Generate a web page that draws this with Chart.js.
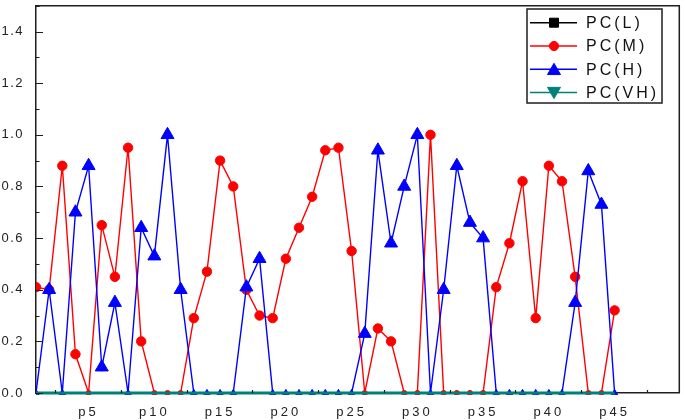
<!DOCTYPE html>
<html><head><meta charset="utf-8">
<script src="https://cdn.jsdelivr.net/npm/chart.js@4.4.1/dist/chart.umd.min.js"></script>
<style>html,body{margin:0;padding:0;background:#fff;}#wrap{width:685px;height:420px;}</style>
</head><body><div id="wrap"><canvas id="c" width="685" height="420"></canvas></div>
<script>
// ---------- data ----------
const categories = ['p1','p2','p3','p4','p5','p6','p7','p8','p9','p10','p11','p12','p13','p14','p15','p16','p17','p18','p19','p20','p21','p22','p23','p24','p25','p26','p27','p28','p29','p30','p31','p32','p33','p34','p35','p36','p37','p38','p39','p40','p41','p42','p43','p44','p45'];
const categoryPositions = [1,2,3,4,5,6,7,8,9,10,11,12,13,14,15,16,17,18,19,20,21,22,23,24,25,26,27,28,29,30,31,32,33,34,35,36,37,38,39,40,41,42,43,44,45];
const seriesNames = ['PC(L)','PC(M)','PC(H)','PC(VH)'];
const pcL  = [0,0,0,0,0,0,0,0,0,0,0,0,0,0,0,0,0,0,0,0,0,0,0,0,0,0,0,0,0,0,0,0,0,0,0,0,0,0,0,0,0,0,0,0,0];
const pcM  = [0.41,0.40,0.88,0.15,0,0.65,0.45,0.95,0.20,0,
              0,0,0.29,0.47,0.90,0.80,0.40,0.30,0.29,0.52,
              0.64,0.76,0.94,0.95,0.55,0,0.25,0.20,0,0,
              1.00,0,0,0,0,0.41,0.58,0.82,0.29,0.88,
              0.82,0.45,0,0,0.32];
const pcH  = [0,0.40,0,0.70,0.88,0.10,0.35,0,0.64,0.53,
              1.00,0.40,0,0,0,0,0.41,0.52,0,0,
              0,0,0,0,0,0.23,0.94,0.58,0.80,1.00,
              0,0.40,0.88,0.66,0.60,0,0,0,0,0,
              0,0.35,0.86,0.73,0];
const pcVH = [0,0,0,0,0,0,0,0,0,0,0,0,0,0,0,0,0,0,0,0,0,0,0,0,0,0,0,0,0,0,0,0,0,0,0,0,0,0,0,0,0,0,0,0,0];
const xTickValues = [5,10,15,20,25,30,35,40,45];
const xTickLabels = ['p5','p10','p15','p20','p25','p30','p35','p40','p45'];
const xTickMarks  = [2.45,7.45,12.45,17.45,22.45,27.45,32.45,37.45,42.45,47.45];
const yTickValues = [0,0.2,0.4,0.6,0.8,1.0,1.2,1.4];
const yTickLabels = ['0.0','0.2','0.4','0.6','0.8','1.0','1.2','1.4'];

// ---------- build ----------
const pts = arr => categoryPositions.map((x, i) => ({x: x, y: arr[i], label: categories[i]}));
const zeroSmall = (big, small) => (c => (c.raw && c.raw.y === 0) ? small : big);
const AX = '#1e1e1e';
const FONT = 'Liberation Sans, Arial, sans-serif';

const datasets = [
  {label: seriesNames[0], data: pts(pcL), borderColor: '#000000', backgroundColor: '#000000',
   borderWidth: 2, pointStyle: 'rect', pointRadius: 0, legendRadius: 4.5, order: 3},
  {label: seriesNames[1], data: pts(pcM), borderColor: '#ff0000', backgroundColor: '#ff0000',
   borderWidth: 1.4, pointStyle: 'circle', pointRadius: zeroSmall(4.7, 2.6), pointBorderWidth: 1,
   legendRadius: 4.6, order: 2},
  {label: seriesNames[2], data: pts(pcH), borderColor: '#0000ff', backgroundColor: '#0000ff',
   borderWidth: 1.4, pointStyle: 'triangle', pointRadius: zeroSmall(7.5, 3.6), pointBorderWidth: 1,
   legendRadius: 7.5, order: 1},
  {label: seriesNames[3], data: pts(pcVH), borderColor: '#00807a', backgroundColor: '#00807a',
   borderWidth: 3, pointStyle: 'triangle', pointRotation: 180, pointRadius: 0, legendRadius: 7.5, order: 0}
];
datasets.forEach(d => { d.clip = {left: 0, top: 0, right: 0, bottom: 2}; d.tension = 0; d.fill = false; });

function drawMarker(ctx, style, rot, x, y, r, color) {
  ctx.save();
  ctx.fillStyle = color; ctx.strokeStyle = color; ctx.lineWidth = 1;
  ctx.translate(x, y); ctx.rotate((rot || 0) * Math.PI / 180);
  ctx.beginPath();
  if (style === 'rect') { ctx.rect(-r, -r, 2 * r, 2 * r); }
  else if (style === 'circle') { ctx.arc(0, 0, r, 0, Math.PI * 2); }
  else if (style === 'triangle') {
    let a = 0;
    ctx.moveTo(Math.sin(a) * r, -Math.cos(a) * r); a += 2 * Math.PI / 3;
    ctx.lineTo(Math.sin(a) * r, -Math.cos(a) * r); a += 2 * Math.PI / 3;
    ctx.lineTo(Math.sin(a) * r, -Math.cos(a) * r); ctx.closePath();
  }
  ctx.fill(); ctx.stroke();
  ctx.restore();
}

const decorPlugin = {
  id: 'decor',
  beforeDraw(chart) {
    const patch = (s, ls) => {
      if (!s || s._lsPatched) return;
      const orig = s.drawLabels;
      s.drawLabels = function (a) { const c = this.ctx; c.save(); c.letterSpacing = ls; orig.call(this, a); c.restore(); };
      s._lsPatched = true;
    };
    patch(chart.scales.x, '3px');
    patch(chart.scales.y, '1.5px');
  },
  afterDraw(chart) {
    const ctx = chart.ctx, a = chart.chartArea, xs = chart.scales.x, ys = chart.scales.y;
    ctx.save();
    ctx.strokeStyle = AX; ctx.lineWidth = 1.5;
    ctx.beginPath();
    ctx.moveTo(a.left, a.top); ctx.lineTo(a.right, a.top); ctx.lineTo(a.right, a.bottom);
    ctx.stroke();
    ctx.lineWidth = 1.2;
    ctx.beginPath();
    yTickValues.forEach(v => {
      const py = Math.round(ys.getPixelForValue(v)) + 0.5;
      ctx.moveTo(a.left, py); ctx.lineTo(a.left + 7, py);
      const pm = Math.round(ys.getPixelForValue(v + 0.1)) + 0.5;
      ctx.moveTo(a.left, pm); ctx.lineTo(a.left + 3.5, pm);
    });
    xTickMarks.forEach(v => {
      const px = Math.round(xs.getPixelForValue(v)) + 0.5;
      ctx.moveTo(px, a.bottom); ctx.lineTo(px, a.bottom - 3);
    });
    ctx.stroke();
    ctx.restore();

    const bx = 527, by = 9, bw = 135, bh = 94;
    ctx.save();
    ctx.fillStyle = '#ffffff';
    ctx.fillRect(bx, by, bw, bh);
    ctx.strokeStyle = AX; ctx.lineWidth = 1.5;
    ctx.strokeRect(bx, by, bw, bh);
    chart.data.datasets.forEach((d, i) => {
      const y = 22.7 + i * 23.3;
      ctx.strokeStyle = d.borderColor; ctx.lineWidth = 1.5;
      ctx.beginPath(); ctx.moveTo(530, y); ctx.lineTo(577, y); ctx.stroke();
      drawMarker(ctx, d.pointStyle, d.pointRotation, 554, d.pointStyle === 'triangle' ? y + (d.pointRotation ? -1.5 : 1.5) : y, d.legendRadius, d.borderColor);
      ctx.save();
      ctx.letterSpacing = '3px';
      ctx.fillStyle = '#111111';
      ctx.font = '16px ' + FONT;
      ctx.textBaseline = 'middle'; ctx.textAlign = 'left';
      ctx.fillText(d.label, 586, y + 1);
      ctx.restore();
    });
    ctx.restore();
  }
};

new Chart(document.getElementById('c'), {
  type: 'line',
  data: {datasets: datasets},
  options: {
    responsive: false, animation: false, devicePixelRatio: 1, events: [],
    layout: {padding: {top: 2, right: 3, left: 0, bottom: 0}},
    plugins: {legend: {display: false}, tooltip: {enabled: false}, title: {display: false}},
    scales: {
      x: {
        type: 'linear', min: 1, max: 49.92,
        grid: {display: false, drawTicks: false},
        border: {display: true, color: AX, width: 1.5},
        afterBuildTicks: s => { s.ticks = xTickValues.map(v => ({value: v})); },
        afterFit: s => { s.height = 27; s.paddingLeft = 0; s.paddingRight = 0; s.paddingTop = 0; s.paddingBottom = 0; },
        ticks: {autoSkip: false, maxRotation: 0, padding: 12, color: '#222222',
                font: {family: FONT, size: 13},
                callback: (v, i) => xTickLabels[i]}
      },
      y: {
        type: 'linear', min: 0, max: 1.5,
        grid: {display: false, drawTicks: false},
        border: {display: true, color: AX, width: 1.5},
        afterBuildTicks: s => { s.ticks = yTickValues.map(v => ({value: v})); },
        afterFit: s => { s.width = 36; s.paddingTop = 0; s.paddingBottom = 0; s.paddingLeft = 0; s.paddingRight = 0; },
        ticks: {autoSkip: false, padding: 12, color: '#222222',
                font: {family: FONT, size: 13},
                callback: (v, i) => yTickLabels[i]}
      }
    }
  },
  plugins: [decorPlugin]
});
</script>
</body></html>
